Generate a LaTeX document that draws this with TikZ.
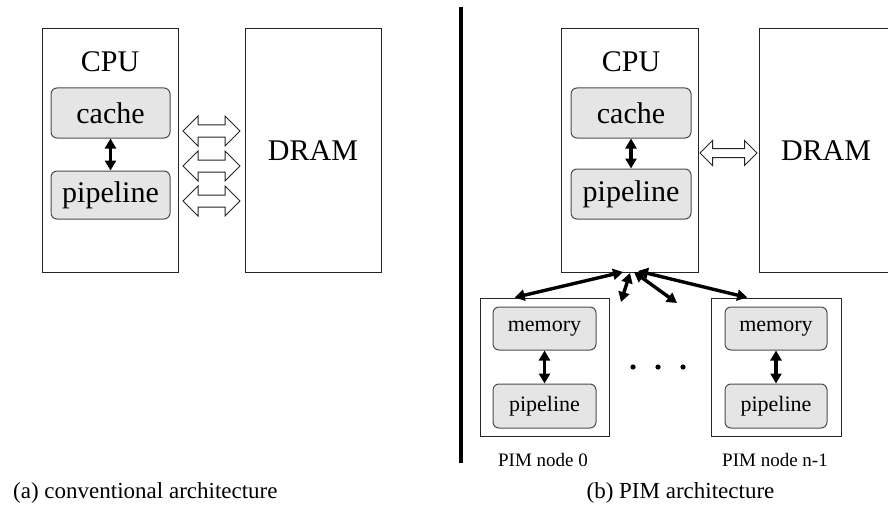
\documentclass[tikz,border=0pt]{standalone}
\usepackage{fontspec}
\setmainfont{Liberation Serif}
\usetikzlibrary{shapes.arrows,arrows.meta,calc}

\begin{document}
\begin{tikzpicture}[x=1pt,y=-1pt,
  unit/.style={draw=black!85, line width=1pt, rectangle, inner sep=0pt},
  part/.style={draw=black!70, fill=black!10, line width=1pt, rectangle,
    rounded corners=6pt, inner sep=0pt},
  bigtxt/.style={font=\fontsize{30}{30}\selectfont, inner sep=0pt},
  midtxt/.style={font=\fontsize{22}{22}\selectfont, inner sep=0pt},
  smalltxt/.style={font=\fontsize{19}{19}\selectfont, inner sep=0pt},
  captxt/.style={font=\fontsize{23}{23}\selectfont, inner sep=0pt},
  link/.style={line width=3.4pt,
    {Triangle[length=10pt,width=11pt]}-{Triangle[length=10pt,width=11pt]}},
  bus/.style={double arrow, draw=black!85, fill=white, line width=1pt,
    inner xsep=0pt, inner ysep=#1, double arrow head extend=9pt,
    minimum height=57pt},
]
\clip (0,0) rectangle (888,516);
\fill[white] (0,0) rectangle (888,516);

% ---------- (a) conventional architecture ----------
\node[unit, minimum width=136pt, minimum height=243pt] (cpuA) at (110,150.5) {};
\node[bigtxt] (cpuAlbl) at (110,62) {CPU};
\node[part, minimum width=119pt, minimum height=50pt, midtxt,
      font=\fontsize{30}{30}\selectfont] (cacheA) at (110.5,113) {cache};
\node[part, minimum width=119pt, minimum height=48pt,
      font=\fontsize{30}{30}\selectfont] (pipeA) at (110.5,195) {pipeline};
\draw[link] (cacheA.south) -- (pipeA.north);

\node[unit, minimum width=136pt, minimum height=243pt] (dramA) at (313,150.5) {};
\node[bigtxt] (dramAlbl) at (dramA.center) {DRAM};

\coordinate (midA) at ($(cpuA.east)!0.5!(dramA.west)$);
\node[bus=5.5pt] (busA1) at ($(midA)+(0,-19.5)$) {};
\node[bus=5.5pt] (busA2) at ($(midA)+(0,15.5)$) {};
\node[bus=5.5pt] (busA3) at ($(midA)+(0,50.5)$) {};

\node[captxt, anchor=base west] (capA) at (13,498) {(a) conventional architecture};

% ---------- separator ----------
\draw[line width=3.6pt] (461,7) -- (461,463);

% ---------- (b) PIM architecture ----------
\node[unit, minimum width=137pt, minimum height=243pt] (cpuB) at (629.5,150.5) {};
\node[bigtxt] (cpuBlbl) at (631,62) {CPU};
\node[part, minimum width=120pt, minimum height=50pt,
      font=\fontsize{30}{30}\selectfont] (cacheB) at (631,113) {cache};
\node[part, minimum width=120pt, minimum height=50pt,
      font=\fontsize{30}{30}\selectfont] (pipeB) at (631,194) {pipeline};
\draw[link] (cacheB.south) -- (pipeB.north);

\node[unit, minimum width=134pt, minimum height=243pt] (dramB) at (826,150.5) {};
\node[bigtxt] (dramBlbl) at (dramB.center) {DRAM};

\node[bus=4pt, double arrow head extend=8pt] (busB) at
  ($(cpuB.east)!0.5!(dramB.west)+(0,2.5)$) {};

% PIM nodes
\node[unit, minimum width=129pt, minimum height=138pt] (pim0) at (544.5,367) {};
\node[part, minimum width=103pt, minimum height=43pt, midtxt] (mem0) at (544.5,328.5) {memory};
\node[part, minimum width=103pt, minimum height=44pt, midtxt] (pipe0) at (544.5,406) {pipeline};
\draw[link] (mem0.south) -- (pipe0.north);
\node[smalltxt] (lbl0) at (543,460) {PIM node 0};

\node[unit, minimum width=130pt, minimum height=138pt] (pimN) at (776,367) {};
\node[part, minimum width=102pt, minimum height=43pt, midtxt] (memN) at (776,328.5) {memory};
\node[part, minimum width=102pt, minimum height=44pt, midtxt] (pipeN) at (776,406) {pipeline};
\draw[link] (memN.south) -- (pipeN.north);
\node[smalltxt] (lblN) at (775,460) {PIM node n-1};

% ellipsis between the PIM nodes
\foreach \dx in {633,658,683}
  \fill (\dx,367) circle (2.6pt);

% CPU to PIM node links
\coordinate (hubL) at (623,272);
\coordinate (hubM) at (630,273);
\coordinate (hubR) at (634,272);
\coordinate (hubRR) at (638,271);
\coordinate (freeL) at (621,302);
\coordinate (freeR) at (677,303);
\draw[link] (hubL) -- ($(pim0.north west)!0.27!(pim0.north east)$);
\draw[link] (hubM) -- (freeL);
\draw[link] (hubR) -- (freeR);
\draw[link] (hubRR) -- ($(pimN.north west)!0.28!(pimN.north east)$);

\node[captxt, anchor=base] (capB) at (680.5,498) {(b) PIM architecture};
\end{tikzpicture}
\end{document}
